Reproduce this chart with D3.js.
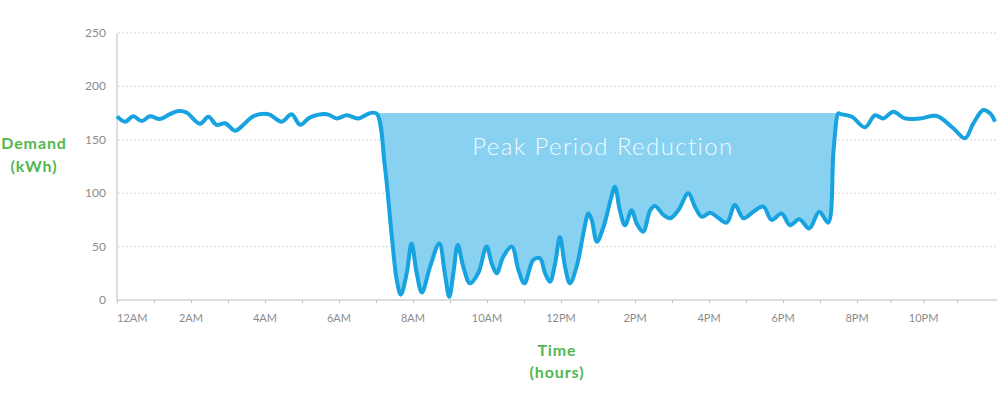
<!DOCTYPE html>
<html>
<head>
<meta charset="utf-8">
<script src="https://d3js.org/d3.v7.min.js"></script>
<style>
  body { margin: 0; background: #fff; }
  text { font-family: Lato, "Open Sans", sans-serif; }
</style>
</head>
<body>
<chart></chart>
<script>
var width = 1000,
    height = 407

// hours since midnight
var hours = [0.00, 0.22, 0.44, 0.67, 0.89, 1.16, 1.43, 1.66, 1.88, 2.24, 2.47, 2.69, 2.92, 3.19, 3.46, 3.68,
  4.09, 4.45, 4.72, 4.95, 5.22, 5.67, 5.94, 6.21, 6.52, 6.84, 7.02,
  7.24, 7.42, 7.56, 7.67, 7.83, 7.96, 8.10, 8.24, 8.46, 8.71, 8.86, 8.98, 9.09, 9.21, 9.36, 9.54, 9.76, 9.99,
  10.13, 10.26, 10.44, 10.67, 10.85, 11.01, 11.25, 11.43, 11.57, 11.70, 11.84, 11.97, 12.11, 12.24, 12.42,
  12.62, 12.74, 12.83, 12.97, 13.15, 13.34, 13.46, 13.59, 13.73, 13.91, 14.04, 14.22, 14.41, 14.54, 14.77,
  14.95, 15.17, 15.44, 15.62, 15.80, 16.03, 16.21, 16.48, 16.70, 16.93, 17.20, 17.47, 17.69, 17.96, 18.19,
  18.44, 18.71, 18.98, 19.22, 19.37, 19.50,
  19.56, 19.86, 20.24, 20.54, 20.79, 21.09, 21.44, 21.89, 22.39, 22.89, 23.24, 23.49, 23.79, 23.99, 24.14]

// demand in kWh
var demand = [172, 167, 172, 167.5, 172, 169.5, 174, 177, 175.5, 165, 171.5, 164, 165.5, 158.5, 165.5, 172,
  174, 167, 174, 164, 171, 174, 170, 173, 170, 175, 174.5,
  125, 62, 19, 5, 25, 53, 25, 7, 31, 53, 25, 3, 25, 51.5, 31, 15.6, 25, 50,
  34, 25, 40.6, 50, 28, 15.6, 37.5, 39, 25, 17, 34, 59, 31, 15.6, 31,
  65, 81, 75, 54.6, 68.6, 93.6, 106, 84, 70, 84, 72, 64, 84, 88, 79.6,
  76.5, 84, 100, 87.4, 78, 81.7, 78, 72.4, 89, 76.5, 82.7, 87.4, 75, 81, 70,
  75.5, 67, 82.7, 72.4, 142, 174.8,
  174, 171.6, 161.7, 173, 170, 176.3, 170, 170, 172.3, 160.8, 151.4, 165.4, 177.9, 174.8, 167]

var yTicks = [0, 50, 100, 150, 200, 250]
var xTicks = [0, 1, 2, 3, 4, 5, 6, 7, 8, 9, 10, 11, 12, 13, 14, 15, 16, 17, 18, 19, 20, 21, 22, 23]
var xLabels = ["12AM", "2AM", "4AM", "6AM", "8AM", "10AM", "12PM", "2PM", "4PM", "6PM", "8PM", "10PM"]

var peakStart = 7.0,
    peakEnd = 19.52,
    peakLevel = 175

var data = hours.map(function(h, i) { return { h: h, v: demand[i] } })

var green = "#52b74f"

var svg = d3.select("chart")
  .append("svg")
    .attr("width", width)
    .attr("height", height)

// the last hours of the axis are squeezed a bit
var x = d3.scaleLinear()
  .domain([0, 20, 24.2])
  .range([117, 857, 997])

var y = d3.scaleLinear()
  .domain([0, 250])
  .range([300, 33])

// grid
svg.selectAll(".grid")
  .data(yTicks.slice(1))
  .enter()
  .append("line")
  .attr("x1", 118)
  .attr("x2", 997)
  .attr("y1", function(d) { return y(d) })
  .attr("y2", function(d) { return y(d) })
  .attr("stroke", "#d6d6d6")
  .attr("stroke-width", 1)
  .attr("stroke-dasharray", "2,2")

// reduction area
var area = d3.area()
  .x(function(d) { return x(d.h) })
  .y0(function(d) { return y(d.v) })
  .y1(y(peakLevel))
  .curve(d3.curveCatmullRom.alpha(0.5))

svg.append("path")
  .datum(data.filter(function(d) { return d.h >= peakStart && d.h <= peakEnd }))
  .attr("d", area)
  .attr("fill", "#7ecdef")
  .attr("opacity", 0.92)

// axes
svg.append("line")
  .attr("x1", 117).attr("x2", 117)
  .attr("y1", 33).attr("y2", 300)
  .attr("stroke", "#bdbdbd")

var xAxis = svg.append("g")
  .attr("transform", "translate(0,300)")
  .call(d3.axisBottom(x).tickValues(xTicks).tickSize(3).tickFormat(""))
xAxis.select(".domain").attr("d", "M117,0H997").attr("stroke", "#bdbdbd")
xAxis.selectAll(".tick line").attr("stroke", "#bdbdbd")

svg.selectAll(".xlab")
  .data(xLabels)
  .enter()
  .append("text")
  .text(function(d) { return d })
  .attr("x", function(d, i) { return x(i * 2) })
  .attr("y", 322)
  .style("text-anchor", function(d, i) { return i == 0 ? "start" : "middle" })
  .style("font-size", "11px")
  .attr("fill", "#8c8c8c")

svg.selectAll(".ylab")
  .data(yTicks)
  .enter()
  .append("text")
  .text(function(d) { return d })
  .attr("x", 106)
  .attr("y", function(d) { return y(d) + 4 })
  .style("text-anchor", "end")
  .style("font-size", "12px")
  .attr("fill", "#8c8c8c")

// demand line
var line = d3.line()
  .x(function(d) { return x(d.h) })
  .y(function(d) { return y(d.v) })
  .curve(d3.curveCatmullRom.alpha(0.5))

svg.append("path")
  .datum(data)
  .attr("d", line)
  .attr("fill", "none")
  .attr("stroke", "#17a2e0")
  .attr("stroke-width", 4)
  .attr("stroke-linejoin", "round")

svg.append("text")
  .text("Peak Period Reduction")
  .attr("x", 603)
  .attr("y", 155)
  .style("text-anchor", "middle")
  .style("font-size", "24px")
  .style("font-weight", 300)
  .style("letter-spacing", "1.4px")
  .attr("fill", "#f2faff")

// titles
function title(t, tx, ty) {
  svg.append("text")
    .text(t)
    .attr("x", tx).attr("y", ty)
    .style("text-anchor", "middle")
    .style("font-size", "16px")
    .style("font-weight", "bold")
    .style("letter-spacing", "0.9px")
    .attr("fill", green)
}
title("Demand", 34, 149)
title("(kWh)", 34, 172)
title("Time", 557, 356)
title("(hours)", 557, 378)
</script>
</body>
</html>
